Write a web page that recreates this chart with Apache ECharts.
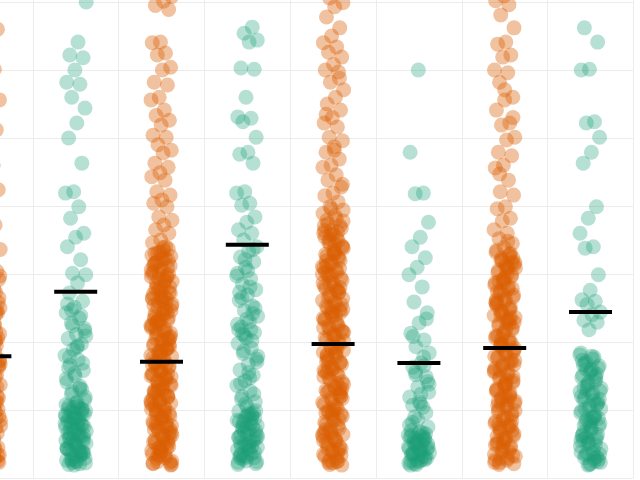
<!DOCTYPE html>
<html>
<head>
<meta charset="utf-8">
<script src="https://cdn.jsdelivr.net/npm/echarts@6/dist/echarts.min.js"></script>
<style>
html,body{margin:0;padding:0;background:#fff;width:640px;height:480px;overflow:hidden;position:relative}
#c{position:absolute;left:-52.8px;top:-66px;width:700px;height:560px}
</style>
</head>
<body>
<div id="c"></div>
<script>
const groups = ['G1','G2','G3','G4','G5','G6','G7','G8'];
const groupKind = ['orange','green','orange','green','orange','green','orange','green'];

const g0 = [72.0,68.4,66.0,64.4,62.2,60.1,57.5,55.6,54.0,52.6,51.2,49.7,48.0,46.0,43.8,42.4,40.1,38.5,37.2,35.0,33.6,32.8,31.3,30.4,29.5,28.9,27.8,27.1,26.5,25.6,24.9,24.1,23.5,22.7,22.0,21.4,20.6,19.9,19.2,18.6,17.9,17.2,16.5,15.9,15.1,14.6,13.8,13.1,12.5,11.8,11.1,10.5,9.8,9.2,8.5,7.9,7.2,6.6,5.9,5.3,4.6,4.0,3.4,2.7,2.1,20.2,18.1,16.0,14.0,12.0,10.1,8.1,6.2,4.3,2.4,25.0,22.3,28.4,13.4,9.5,5.6,3.1];
const g0x = [30.0,29.2,28.6,27.9,27.3,26.8,26.1,25.4,24.8,24.3,23.7,23.0,22.4,21.9,21.2,20.7,20.0,19.5,18.9,18.3,17.7,17.1,16.6,16.0,15.4,14.9,14.2,13.7,13.1,12.6,12.0,11.4,10.8,10.3,9.6,9.1,8.5,7.9,7.4,6.8,6.2,5.7,5.1,4.5,3.9,3.3,2.8,2.2,29.7,28.1,26.4,24.6,23.3,21.6,19.8,18.0,16.3,14.5,12.9,11.2,9.4,7.7,6.0,4.2,2.5,27.5,25.9,22.8,20.4,17.4,13.9,10.5,8.8,5.4,3.6];
const g0y = [29.4,27.6,25.8,24.0,22.2,20.3,18.5,16.7,14.9,13.0,11.2,9.4,7.6,5.8,4.0,2.3,28.8,25.2,21.5,17.9,14.2,10.6,6.9,3.3];
const g1 = [70.0,64.1,62.2,61.8,60.0,58.2,57.9,56.0,54.4,52.2,50.0,46.3,42.1,41.9,39.9,38.2,36.0,35.4,34.0,32.1,30.1,29.9,28.7,27.2,26.0,25.1,24.3,23.5,22.8,22.0,21.1,20.5,19.7,18.9,18.0,17.4,16.6,15.8,15.0,14.1,13.5,12.7,11.9,11.2,10.6,10.1,9.6,9.1,8.6,8.1,7.6,7.1,6.6,6.1,5.6,5.1,4.6,4.1,3.6,3.1,2.6,2.1,24.7,21.6,19.2,16.2,13.0,10.4,9.3,8.3,7.3,6.3,5.3,4.3,3.3,2.3,9.9,7.9,5.9,3.9,1.9];
const g1x = [10.8,10.3,9.8,9.4,8.9,8.4,7.9,7.4,6.9,6.4,5.9,5.4,4.9,4.4,3.9,3.4,2.9,2.4,2.0,10.0,8.7,7.5,6.2,5.0,3.7,2.5,25.6,23.9,22.4,20.9,19.4,17.8,16.9,15.4,14.6,13.2,12.3,11.5];
const g1y = [11.0,10.2,9.5,8.8,8.0,7.3,6.5,5.8,5.0,4.3,3.5,2.8,2.2,10.5,9.0,7.8,6.7,5.5,4.0,2.7];
const g2 = [72.5,70.8,70.1,69.5,68.9,64.1,64.0,62.5,62.2,60.4,60.0,58.2,57.8,56.0,55.6,54.1,53.3,52.6,51.9,50.4,50.1,49.0,48.2,47.8,46.3,45.7,44.9,44.3,43.8,42.1,41.6,40.9,40.4,39.9,38.4,37.9,37.2,36.5,36.0,35.0,34.6,34.0,33.1,32.6,32.1,31.5,31.0,30.1,29.6,29.0,28.7,28.1,27.5,27.0,26.4,25.9,25.3,24.8,24.2,23.6,23.1,22.5,21.9,21.4,20.8,20.2,19.7,19.1,18.6,18.0,17.5,16.9,16.4,15.8,15.2,14.7,14.1,13.6,13.0,12.5,11.9,11.3,10.8,10.2,9.7,9.1,8.6,8.0,7.4,6.9,6.3,5.8,5.2,4.6,4.1,3.5,3.0,2.4,1.9,26.1,23.3,20.5,17.8,15.0,12.2,9.4,6.6,3.8,2.2,18.9,13.3,7.7,4.9,10.6];
const g2x = [33.7,33.2,32.8,32.3,31.8,31.2,30.7,30.3,29.8,29.3,28.9,28.3,27.8,27.3,26.8,26.3,25.7,25.2,24.6,24.1,23.7,23.2,22.7,22.1,21.6,21.1,20.6,20.0,19.5,19.0,18.4,17.9,17.3,16.8,16.3,15.7,15.3,14.8,14.3,13.8,13.2,12.7,12.1,11.6,11.1,10.5,10.0,9.5,8.9,8.3,7.8,7.3,6.7,6.2,5.6,5.1,4.5,4.0,3.4,2.9,2.3,32.9,31.3,29.5,27.7,25.6,23.9,22.0,20.3,18.2,16.6,14.4,12.8,11.0,9.0,7.1,5.4,3.2,30.6,26.7,22.9,19.3,15.5,11.8,8.2,4.4,2.0];
const g2y = [33.9,33.0,32.0,31.1,30.1,29.1,28.2,27.2,26.2,25.4,24.4,23.4,22.4,21.4,20.5,19.6,18.6,17.6,16.7,15.8,14.9,13.9,12.9,12.0,11.0,10.1,9.2,8.2,7.2,6.3,5.3,4.4,3.4,2.5,33.4,31.6,29.9,28.0,26.5,24.9,23.0,21.3,19.3,17.1,15.2,13.4,11.4,9.8,7.6,5.9,3.9,2.1];
const g3 = [66.3,65.4,64.4,64.1,60.3,60.1,56.0,53.1,52.9,52.4,50.1,47.9,47.6,46.3,42.1,41.9,40.4,40.1,38.4,37.6,36.5,36.0,35.0,34.0,33.3,32.5,31.8,31.0,30.1,29.3,28.5,27.7,26.9,26.1,25.3,24.6,23.8,23.0,22.2,21.4,20.6,19.8,19.1,18.3,17.5,16.7,15.9,15.1,14.3,13.6,12.8,12.0,11.2,10.5,9.8,9.1,8.4,7.7,7.0,6.3,5.6,4.9,4.2,3.5,2.8,2.1,30.5,27.3,24.2,21.0,17.9,14.7,11.6,8.8,7.4,6.0,4.6,3.2,2.4,9.5,5.2];
const g3x = [9.6,9.0,8.5,8.0,7.5,7.0,6.5,6.0,5.5,5.0,4.5,4.0,3.5,3.0,2.5,2.0,8.7,7.2,5.8,4.4,3.0,33.6,32.1,29.7,28.1,26.5,25.0,23.4,21.8,20.2,18.7,17.1,15.5,13.9,12.4,10.9,22.6,21.8,21.2];
const g3y = [9.9,9.2,8.3,7.6,6.8,6.1,5.3,4.6,3.8,3.1,2.3,9.4,7.9,6.4,4.8,3.3];
const g4 = [73.0,71.5,70.6,69.9,69.3,67.8,66.2,65.0,64.0,63.4,62.6,61.9,60.8,60.0,59.7,58.2,57.1,56.0,55.0,54.1,53.0,52.2,51.6,50.1,49.6,48.7,47.9,46.9,46.0,45.7,44.6,43.8,42.8,41.9,41.5,40.6,39.9,39.4,38.6,37.9,37.1,36.5,36.0,35.3,34.7,34.1,33.5,32.9,32.3,31.7,31.1,30.6,30.0,29.4,28.8,28.2,27.6,27.0,26.4,25.9,25.3,24.7,24.1,23.5,22.9,22.3,21.7,21.1,20.6,20.0,19.4,18.8,18.2,17.6,17.0,16.4,15.8,15.3,14.7,14.1,13.5,12.9,12.3,11.7,11.1,10.5,9.9,9.4,8.8,8.2,7.6,7.0,6.4,5.8,5.2,4.6,4.0,3.5,2.9,2.3,1.9,33.0,30.3,27.3,24.4,21.4,18.5,15.5,12.6,9.6,6.7,3.7,2.6,43.2,48.2,53.5,58.8];
const g4x = [39.6,38.9,38.1,37.4,36.7,35.9,35.4,34.9,34.4,33.8,33.2,32.6,32.0,31.5,30.9,30.3,29.7,29.1,28.5,27.9,27.3,26.7,26.1,25.6,25.0,24.4,23.8,23.2,22.6,22.0,21.5,20.9,20.3,19.7,19.1,18.5,17.9,17.3,16.7,16.1,15.6,15.0,14.4,13.8,13.2,12.6,12.0,11.4,10.8,10.2,9.7,9.1,8.5,7.9,7.3,6.7,6.1,5.5,4.9,4.3,3.8,3.2,2.5,2.0,37.8,34.3,31.2,28.0,25.1,22.1,19.0,16.2,13.1,10.0,7.1,4.2,35.8,30.0,24.0,18.0,12.0,6.0];
const g4y = [37.1,36.2,35.1,34.0,33.0,31.9,30.8,29.8,28.7,27.6,26.6,25.5,24.5,23.4,22.3,21.3,20.2,19.2,18.1,17.0,16.0,14.9,13.9,12.8,11.7,10.7,9.6,8.6,7.5,6.4,5.4,4.3,3.3,2.2,36.4,32.5,28.6,24.8,20.9,17.1,13.2,9.3,5.5,2.4];
const g5 = [60.0,47.9,41.9,41.8,37.6,35.4,34.0,32.4,31.0,29.9,28.1,25.9,24.3,22.8,21.3,20.3,19.3,18.4,16.9,16.3,14.9,13.4,11.9,10.4,9.0,7.5,6.8,6.2,5.7,5.1,4.6,4.0,3.5,2.9,2.4,1.9,17.8,15.6,12.6,10.9,8.2,6.5,5.4,4.3,3.2,2.1,14.2,11.2,7.0,5.9,4.8,3.7,2.6,20.8,23.4];
const g5x = [6.4,6.0,5.5,5.0,4.5,4.1,3.6,3.1,2.6,2.2,6.1,5.2,4.3,3.4,2.5,16.5,15.2,13.8,12.3,10.7,9.6,8.6,7.8];
const g5y = [6.6,5.8,5.0,4.2,3.4,2.7,2.0,6.3,4.9,3.6];
const g6 = [72.8,70.9,70.2,69.6,68.1,66.2,64.1,63.8,62.2,61.9,60.0,59.6,58.2,56.0,55.6,54.1,52.2,51.9,50.1,49.7,47.9,47.4,46.0,45.6,43.8,42.1,41.6,39.9,39.6,38.2,37.8,36.5,36.0,35.2,34.5,33.9,33.2,32.6,32.0,31.4,30.8,30.2,29.6,29.0,28.4,27.8,27.2,26.6,26.0,25.4,24.8,24.2,23.6,23.0,22.4,21.8,21.2,20.6,20.0,19.4,18.8,18.2,17.6,17.0,16.4,15.8,15.2,14.6,14.0,13.4,12.8,12.2,11.6,11.0,10.4,9.8,9.2,8.6,8.0,7.4,6.8,6.2,5.6,5.0,4.4,3.8,3.2,2.6,2.0,31.7,28.7,25.7,22.7,19.7,16.7,13.7,10.7,7.7,4.7,2.3,34.8,44.7,53.0,57.1];
const g6x = [33.5,32.9,32.3,31.7,31.1,30.5,29.9,29.3,28.7,28.1,27.5,26.9,26.3,25.7,25.1,24.5,23.9,23.3,22.7,22.1,21.5,20.9,20.3,19.7,19.1,18.5,17.9,17.3,16.7,16.1,15.5,14.9,14.3,13.7,13.1,12.5,11.9,11.3,10.7,10.1,9.5,8.9,8.3,7.7,7.1,6.5,5.9,5.3,4.7,4.1,3.5,2.9,2.3,32.4,29.4,26.2,23.3,20.4,17.3,14.4,11.3,8.4,5.2,2.7,30.9,24.6,18.6,12.4,6.1];
const g6y = [33.0,31.9,30.9,29.9,28.9,27.9,26.9,25.9,24.9,23.9,22.9,21.9,20.9,19.9,18.9,17.9,16.9,15.9,14.9,13.9,12.9,11.9,10.9,9.9,8.9,7.9,6.9,5.9,4.9,3.9,2.9,2.1,31.5,27.4,23.6,19.5,15.6,11.5,7.4,3.3];
const g7 = [66.2,64.1,60.1,60.0,52.4,52.2,50.1,47.9,46.3,39.9,38.2,36.0,34.0,33.8,29.9,27.6,26.2,26.0,25.5,24.4,24.0,23.2,22.9,21.8,18.4,17.8,17.1,16.5,15.8,15.1,14.5,13.8,13.2,12.5,11.9,11.2,10.6,9.9,9.3,8.6,8.0,7.3,6.7,6.0,5.4,4.7,4.1,3.4,2.8,2.1,17.3,14.9,12.9,10.2,8.9,7.7,6.4,5.1,3.8,2.5,16.0,11.6,8.3,5.7,3.1,1.9];
const g7x = [18.1,17.5,16.8,16.2,15.5,14.8,14.2,13.5,12.8,12.2,11.5,10.9,10.2,9.6,8.9,8.2,7.6,6.9,6.3,5.6,5.0,4.3,3.7,3.0,2.4,2.0,12.0,9.0,6.0,3.5];
const g7y = [17.9,16.6,15.3,14.0,12.7,11.4,10.1,8.8,7.5,6.2,4.9,3.6,2.3,16.0,13.3,10.8,8.1,5.5,2.9];
const medians = [17.9, 27.4, 17.1, 34.3, 19.7, 16.9, 19.1, 24.4];

const groupValues = [
  g0.concat(g0x, g0y), g1.concat(g1x, g1y), g2.concat(g2x, g2y), g3.concat(g3x, g3y),
  g4.concat(g4x, g4y), g5.concat(g5x, g5y), g6.concat(g6x, g6y), g7.concat(g7x, g7y)
];
const colors = { orange: '#d95f02', green: '#1b9e77' };

// deterministic horizontal spread within each group (layout only)
function spread(i, k) {
  const f = ((i + 1) * 0.6180339887 + k * 0.371) % 1;
  return (f - 0.5) * 0.25;
}

const orangePts = [], greenPts = [];
groupValues.forEach((vals, k) => {
  vals.forEach((v, i) => {
    const p = [k + 0.5 + spread(i, k), v];
    (groupKind[k] === 'orange' ? orangePts : greenPts).push(p);
  });
});
const medianPts = medians.map((m, k) => [k + 0.5, m]);

const chart = echarts.init(document.getElementById('c'), null, { renderer: 'canvas' });
chart.setOption({
  animation: false,
  backgroundColor: '#ffffff',
  grid: { left: 0, right: 13.6, top: 0, bottom: 16, containLabel: false },
  xAxis: {
    type: 'value', min: 0, max: 8, interval: 1,
    axisLine: { show: false }, axisTick: { show: false }, axisLabel: { show: false },
    splitLine: { show: true, lineStyle: { color: '#ececec', width: 1 } }
  },
  yAxis: {
    type: 'value', min: 0, max: 80, interval: 10,
    axisLine: { show: false }, axisTick: { show: false }, axisLabel: { show: false },
    splitLine: { show: true, lineStyle: { color: '#ececec', width: 1 } }
  },
  series: [
    { type: 'scatter', data: orangePts, symbolSize: 15, clip: true,
      itemStyle: { color: colors.orange, opacity: 0.38 } },
    { type: 'scatter', data: greenPts, symbolSize: 15, clip: true,
      itemStyle: { color: colors.green, opacity: 0.32 } },
    { type: 'scatter', data: medianPts, symbol: 'rect', symbolSize: [43, 4], z: 5,
      itemStyle: { color: '#000000', opacity: 1 } }
  ]
});
</script>
</body>
</html>
